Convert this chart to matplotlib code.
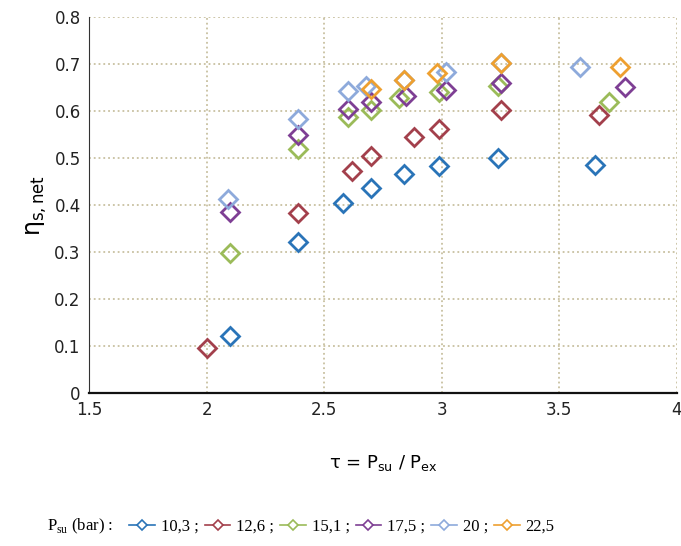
import matplotlib.pyplot as plt

# pressure ratio tau and net isentropic efficiency, one series per supply pressure
tau_103 = [2.10, 2.39, 2.58, 2.70, 2.84, 2.99, 3.24, 3.65]
eta_103 = [0.121, 0.322, 0.405, 0.437, 0.467, 0.483, 0.501, 0.486]

tau_126 = [2.00, 2.39, 2.62, 2.70, 2.88, 2.99, 3.25, 3.67]
eta_126 = [0.096, 0.384, 0.473, 0.504, 0.544, 0.562, 0.602, 0.591]

tau_151 = [2.10, 2.39, 2.60, 2.70, 2.82, 2.99, 3.24, 3.71]
eta_151 = [0.298, 0.520, 0.587, 0.602, 0.628, 0.640, 0.653, 0.620]

tau_175 = [2.10, 2.39, 2.60, 2.70, 2.85, 3.02, 3.25, 3.78]
eta_175 = [0.385, 0.549, 0.605, 0.619, 0.632, 0.645, 0.660, 0.651]

tau_20 = [2.09, 2.39, 2.60, 2.68, 2.84, 3.02, 3.25, 3.59]
eta_20 = [0.413, 0.583, 0.643, 0.653, 0.666, 0.683, 0.702, 0.694]

tau_225 = [2.70, 2.84, 2.98, 3.25, 3.76]
eta_225 = [0.647, 0.665, 0.681, 0.702, 0.694]

series = [
    (tau_103, eta_103, '10,3 ;', '#2a74b8'),
    (tau_126, eta_126, '12,6 ;', '#a3404c'),
    (tau_151, eta_151, '15,1 ;', '#9bbb59'),
    (tau_175, eta_175, '17,5 ;', '#7e3f94'),
    (tau_20, eta_20, '20 ;', '#8eaadb'),
    (tau_225, eta_225, '22,5', '#eea030'),
]

fig = plt.figure(figsize=(6.81, 5.46), dpi=100)
ax = fig.add_axes([0.1307, 0.2802, 0.8633, 0.6887])

handles = []
for x, y, lab, col in series:
    # scatter points (open diamonds)
    ax.plot(x, y, linestyle='none', marker='D', ms=9, mfc='none',
            mec=col, mew=2, zorder=3)
    # legend proxy: line with a small diamond
    h, = ax.plot([], [], color=col, lw=1.2, marker='D', ms=5,
                 mfc='white', mec=col, mew=1.2, label=lab)
    handles.append(h)

ax.set_xlim(1.5, 4)
ax.set_ylim(0, 0.8)
ax.set_xticks([1.5, 2, 2.5, 3, 3.5, 4])
ax.set_xticklabels(['1.5', '2', '2.5', '3', '3.5', '4'])
ax.set_yticks([0, 0.1, 0.2, 0.3, 0.4, 0.5, 0.6, 0.7, 0.8])
ax.set_yticklabels(['0', '0.1', '0.2', '0.3', '0.4', '0.5', '0.6', '0.7', '0.8'])
ax.tick_params(length=0, labelsize=12, pad=6, colors='#222222')
ax.grid(True, linestyle=':', color='#c8c0a0', lw=1.3)
ax.set_axisbelow(True)

ax.spines['top'].set_visible(False)
ax.spines['right'].set_visible(False)
ax.spines['left'].set_color('#333333')
ax.spines['bottom'].set_color('#111111')
ax.spines['bottom'].set_linewidth(1.6)

ax.set_xlabel(r'$\mathregular{\tau}$ = P$_\mathregular{su}$ / P$_\mathregular{ex}$', fontsize=13, labelpad=24)
ax.set_ylabel(r'$\mathregular{\eta_{s,net}}$', fontsize=17, labelpad=4)

# legend line at the bottom in a serif face
fig.text(0.069, 0.035, r'P$_\mathregular{su}$ (bar) :', family='Liberation Serif',
         fontsize=12, va='center')
fig.legend(handles=handles, loc='center left', bbox_to_anchor=(0.19, 0.035),
           ncol=6, frameon=False, handlelength=1.55, handletextpad=0.35,
           columnspacing=0.35, borderpad=0, borderaxespad=0,
           prop={'family': 'Liberation Serif', 'size': 12})

fig.savefig('out.png', dpi=100)
